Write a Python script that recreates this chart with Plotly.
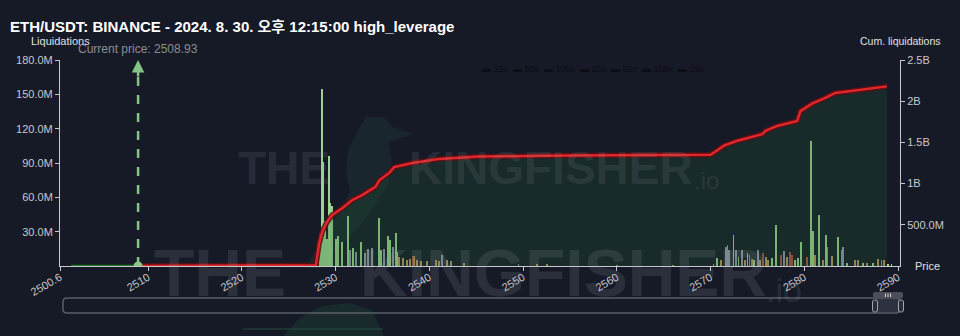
import plotly.graph_objects as go

# ---------------- data ----------------
current_price = 2508.93

green_prices = [2528.35, 2528.56, 2528.70, 2528.91, 2529.09, 2529.26, 2529.44, 2529.58, 2530.05, 2530.29,
                2530.64, 2531.28, 2531.82, 2532.71, 2534.66, 2534.84, 2535.54, 2535.83, 2536.43, 2536.60,
                2570.66, 2572.44, 2572.97, 2573.93, 2574.67, 2576.59, 2576.94, 2579.00, 2579.28, 2579.60,
                2580.69, 2580.88, 2581.59, 2582.26, 2583.54, 2584.50, 2586.28, 2587.34, 2588.94, 2589.29]
green_values = [29, 155, 91, 39, 24, 96, 55, 52, 24, 26,
                21, 44, 16, 21, 42, 14, 26, 23, 29, 12,
                7, 27, 8, 11, 5, 7, 36, 5, 7, 21,
                109, 31, 45, 27, 25, 3, 3, 3, 2, 2]

grey_prices = [2531.57, 2532.18, 2533.14, 2533.41, 2533.88, 2535.19, 2536.08, 2541.33,
               2571.62, 2571.80, 2571.98, 2572.68, 2573.39, 2575.03, 2577.87, 2582.47, 2583.96, 2584.15]
grey_values = [14, 12, 11, 15, 16, 15, 17, 10,
               17, 18, 14, 14, 14, 14, 13, 17, 14, 17]

tan_prices = [2536.79, 2537.21, 2537.64, 2537.96, 2538.38, 2538.70, 2539.10, 2539.77, 2540.70, 2541.04,
              2541.90, 2542.29, 2543.70, 2549.50, 2551.50, 2552.50, 2560.00, 2566.00,
              2570.31, 2571.13, 2573.68, 2574.14, 2574.39, 2575.28, 2575.88, 2576.16, 2578.11, 2581.14,
              2581.94, 2582.97, 2585.39, 2585.74, 2586.70, 2587.87, 2588.22, 2588.48]
tan_values = [8, 7, 5, 6, 9, 5, 4, 4, 5, 4,
              5, 4, 3, 1.5, 2, 1.5, 1, 1,
              2, 5, 5, 10, 6, 5, 8, 5, 8, 10,
              5, 9, 5, 5, 3, 6, 5, 5]

red_prices = [2538.27, 2575.63, 2577.52, 2578.47, 2578.64, 2580.24]
red_values = [9, 11, 10, 12, 10, 8]

# cumulative liquidations (billions), above current price
cum_prices = [2508.93, 2527.90, 2528.23, 2528.58, 2529.11, 2529.64, 2530.70, 2531.77, 2532.83, 2534.25,
              2534.66, 2535.72, 2536.25, 2538.20, 2541.04, 2543.88, 2545.30, 2555.00, 2565.00, 2570.00,
              2570.53, 2571.42, 2572.84, 2575.50, 2575.86, 2577.10, 2579.23, 2579.58, 2580.82, 2582.06,
              2583.30, 2586.30, 2588.80]
cum_values = [0, 0.01, 0.27, 0.42, 0.54, 0.62, 0.70, 0.80, 0.86, 0.96,
              1.04, 1.13, 1.20, 1.25, 1.30, 1.32, 1.33, 1.34, 1.345, 1.35,
              1.39, 1.46, 1.52, 1.60, 1.64, 1.70, 1.76, 1.88, 1.97, 2.03,
              2.10, 2.14, 2.18]

# cumulative below current price
cum_below_prices = [2501.8, current_price]
cum_below_values = [0, 0]

x_tick_vals = [2500.6, 2510, 2520, 2530, 2540, 2550, 2560, 2570, 2580, 2590]
x_tick_text = ["2500.6", "2510", "2520", "2530", "2540", "2550", "2560", "2570", "2580", "2590"]
y_tick_vals = [30, 60, 90, 120, 150, 180]
y_tick_text = ["30.0M", "60.0M", "90.0M", "120.0M", "150.0M", "180.0M"]
y2_tick_vals = [0.5, 1, 1.5, 2, 2.5]
y2_tick_text = ["500.0M", "1B", "1.5B", "2B", "2.5B"]

title_text = "ETH/USDT: BINANCE - 2024. 8. 30. 오후 12:15:00 high_leverage"

# ---------------- figure ----------------
W, H = 960, 336
ML, MR, MT, MB = 60, 60, 60, 70
PW, PH = W - ML - MR, H - MT - MB


def px_x(x):
    return (x - ML) / PW


def px_y(y):
    return (H - MB - y) / PH


BG = "#161a27"
AX = "#c8c8cc"
FONT = "Liberation Sans, Arial, Noto Sans CJK KR, sans-serif"

fig = go.Figure()

# cumulative fill (right axis)
fig.add_trace(go.Scatter(x=cum_prices, y=cum_values, yaxis="y2", mode="lines",
                         line=dict(color="rgba(0,0,0,0)", width=0),
                         fill="tozeroy", fillcolor="rgba(30,90,50,0.26)",
                         hoverinfo="skip", showlegend=False))

bar_w = 0.2
for px_, vals, col in [(green_prices, green_values, "rgba(165,228,150,0.92)"),
                       (grey_prices, grey_values, "rgba(170,170,200,0.85)"),
                       (tan_prices, tan_values, "rgba(215,170,100,0.85)"),
                       (red_prices, red_values, "rgba(190,85,65,0.9)")]:
    fig.add_trace(go.Bar(x=px_, y=[v * 1e6 for v in vals], width=bar_w,
                         marker=dict(color=col, line=dict(width=0)), showlegend=False))

fig.add_trace(go.Scatter(x=cum_prices, y=cum_values, yaxis="y2", mode="lines",
                         line=dict(color="rgba(90,15,20,0.9)", width=5.5),
                         hoverinfo="skip", showlegend=False))
fig.add_trace(go.Scatter(x=cum_prices, y=cum_values, yaxis="y2", mode="lines",
                         line=dict(color="#e0262b", width=2.5), showlegend=False))
fig.add_trace(go.Scatter(x=cum_below_prices, y=cum_below_values, yaxis="y2", mode="lines",
                         line=dict(color="#1f7a24", width=2.5), showlegend=False))
fig.add_trace(go.Scatter(x=[current_price], y=[0], yaxis="y2", mode="markers",
                         marker=dict(color="#86c486", size=9), showlegend=False))

shapes = []
# current price dashed line
shapes.append(dict(type="line", xref="x", yref="y", x0=current_price, x1=current_price,
                   y0=0, y1=168e6, line=dict(color="#86c486", width=2.5, dash="dash")))


# slider decoration
def rounded_rect(x0, y0, x1, y1, r):
    X = lambda v: px_x(v)
    Y = lambda v: px_y(v)
    return (f"M {X(x0+r)},{Y(y0)} L {X(x1-r)},{Y(y0)} Q {X(x1)},{Y(y0)} {X(x1)},{Y(y0+r)} "
            f"L {X(x1)},{Y(y1-r)} Q {X(x1)},{Y(y1)} {X(x1-r)},{Y(y1)} L {X(x0+r)},{Y(y1)} "
            f"Q {X(x0)},{Y(y1)} {X(x0)},{Y(y1-r)} L {X(x0)},{Y(y0+r)} Q {X(x0)},{Y(y0)} {X(x0+r)},{Y(y0)} Z")


shapes.append(dict(type="path", xref="paper", yref="paper", path=rounded_rect(63, 298, 900, 313, 4),
                   line=dict(color="#5a5d68", width=1.5), fillcolor="rgba(0,0,0,0)"))
shapes.append(dict(type="rect", xref="paper", yref="paper", x0=px_x(875), x1=px_x(901),
                   y0=px_y(299), y1=px_y(312), line=dict(width=0), fillcolor="rgba(120,125,140,0.25)"))
shapes.append(dict(type="path", xref="paper", yref="paper", path=rounded_rect(873, 292, 903, 298.5, 2),
                   line=dict(width=0), fillcolor="#4b4e5a"))
for hx in (885.5, 888, 890.5):
    shapes.append(dict(type="line", xref="paper", yref="paper", x0=px_x(hx), x1=px_x(hx),
                       y0=px_y(293.5), y1=px_y(297), line=dict(color="#d0d0d0", width=1)))
for hx in (875, 901):
    shapes.append(dict(type="path", xref="paper", yref="paper", path=rounded_rect(hx - 2.5, 300, hx + 2.5, 312, 2),
                       line=dict(color="#a0a3ad", width=1), fillcolor="#2a2d38"))

# kingfisher silhouette (watermark)
bird = [(413, 134), (392, 127), (384, 117), (366, 117), (358, 130), (348, 150), (346, 175), (350, 192),
        (338, 215), (322, 240), (306, 268), (320, 268), (340, 246), (360, 226), (374, 206), (388, 186),
        (392, 162), (389, 142)]
bird_path = "M " + " L ".join(f"{px_x(a)},{px_y(b)}" for a, b in bird) + " Z"
shapes.append(dict(type="path", xref="paper", yref="paper", path=bird_path, layer="below",
                   line=dict(width=0), fillcolor="rgba(40,95,80,0.18)"))
bird2 = [(283, 336), (300, 318), (322, 306), (350, 303), (372, 310), (384, 336)]
shapes.append(dict(type="path", xref="paper", yref="paper",
                   path="M " + " L ".join(f"{px_x(a)},{px_y(b)}" for a, b in bird2) + " Z",
                   layer="below", line=dict(width=0), fillcolor="rgba(30,80,55,0.3)"))
shapes.append(dict(type="line", xref="paper", yref="paper", x0=px_x(243), x1=px_x(383),
                   y0=px_y(329), y1=px_y(329), layer="below", line=dict(color="rgba(40,95,70,0.35)", width=2)))

WM = "rgba(165,165,175,0.15)"
WMF = "Liberation Sans, Arial, sans-serif"
annotations = [
    # watermarks
    dict(x=px_x(284), y=px_y(168), xref="paper", yref="paper", text="<b>THE</b>", showarrow=False,
         xanchor="center", yanchor="middle", font=dict(family=WMF, size=46, color=WM)),
    dict(x=px_x(551), y=px_y(168), xref="paper", yref="paper", text="<b>KINGFISHER</b>", showarrow=False,
         xanchor="center", yanchor="middle", font=dict(family=WMF, size=46, color=WM)),
    dict(x=px_x(692), y=px_y(180), xref="paper", yref="paper", text=".io", showarrow=False, xanchor="left",
         yanchor="middle", font=dict(family=FONT, size=24, color=WM)),
    dict(x=px_x(220), y=px_y(273), xref="paper", yref="paper", text="<b>THE</b>", showarrow=False,
         xanchor="center", yanchor="middle", font=dict(family=WMF, size=66, color=WM)),
    dict(x=px_x(563), y=px_y(273), xref="paper", yref="paper", text="<b>KINGFISHER</b>", showarrow=False,
         xanchor="center", yanchor="middle", font=dict(family=WMF, size=66, color=WM)),
    dict(x=px_x(764), y=px_y(290), xref="paper", yref="paper", text=".io", showarrow=False, xanchor="left",
         yanchor="middle", font=dict(family=FONT, size=34, color=WM)),
    # faint legend
    dict(x=px_x(480), y=px_y(69), xref="paper", yref="paper", xanchor="left", yanchor="middle", showarrow=False,
         text="▬ 25x  ▬ 50x  ▬ 100x  ▬ 25x  ▬ 50x  ▬ 100x  ▬ 25x",
         font=dict(family=FONT, size=9, color="#0b0d15")),
    # current price arrow + text
    dict(x=current_price, y=180e6, xref="x", yref="y", text="", showarrow=True, ax=0, ay=18,
         arrowhead=2, arrowsize=1, arrowwidth=2.5, arrowcolor="#86c486"),
    dict(x=current_price, y=px_y(49), xref="x", yref="paper", text="Current price: 2508.93", showarrow=False,
         xanchor="center", yanchor="middle", font=dict(family=FONT, size=12, color="#8c8c92")),
    # axis titles
    dict(x=px_x(60), y=px_y(41), xref="paper", yref="paper", text="Liquidations", showarrow=False,
         xanchor="center", yanchor="middle", font=dict(family=FONT, size=11, color="#e0e0e0")),
    dict(x=px_x(900), y=px_y(41), xref="paper", yref="paper", text="Cum. liquidations", showarrow=False,
         xanchor="center", yanchor="middle", font=dict(family=FONT, size=10.5, color="#e0e0e0")),
    dict(x=px_x(913), y=px_y(266), xref="paper", yref="paper", text="Price", showarrow=False,
         xanchor="left", yanchor="middle", font=dict(family=FONT, size=11, color="#e0e0e0")),
]

axis_common = dict(showgrid=False, zeroline=False, showline=True, linecolor=AX, linewidth=1,
                   ticks="outside", ticklen=4, tickcolor=AX, tickfont=dict(family=FONT, size=11, color=AX))

fig.update_layout(
    width=W, height=H,
    margin=dict(l=ML, r=MR, t=MT, b=MB),
    paper_bgcolor=BG, plot_bgcolor=BG,
    barmode="overlay", bargap=0,
    showlegend=False,
    title=dict(text=f"<b>{title_text}</b>", x=10 / W, xanchor="left", y=1 - 27 / H, yanchor="middle",
               font=dict(family=FONT, size=15, color="#ffffff")),
    xaxis=dict(range=[2500.6, 2590.2], tickvals=x_tick_vals, ticktext=x_tick_text, tickangle=-30,
               ticklabelstandoff=-4, **axis_common),
    yaxis=dict(range=[0, 180e6], tickvals=[v * 1e6 for v in y_tick_vals], ticktext=y_tick_text,
               **axis_common),
    yaxis2=dict(range=[0, 2.5], overlaying="y", side="right", tickvals=y2_tick_vals, ticktext=y2_tick_text,
                **axis_common),
    shapes=shapes,
    annotations=annotations,
)

fig.write_html("out.html")
